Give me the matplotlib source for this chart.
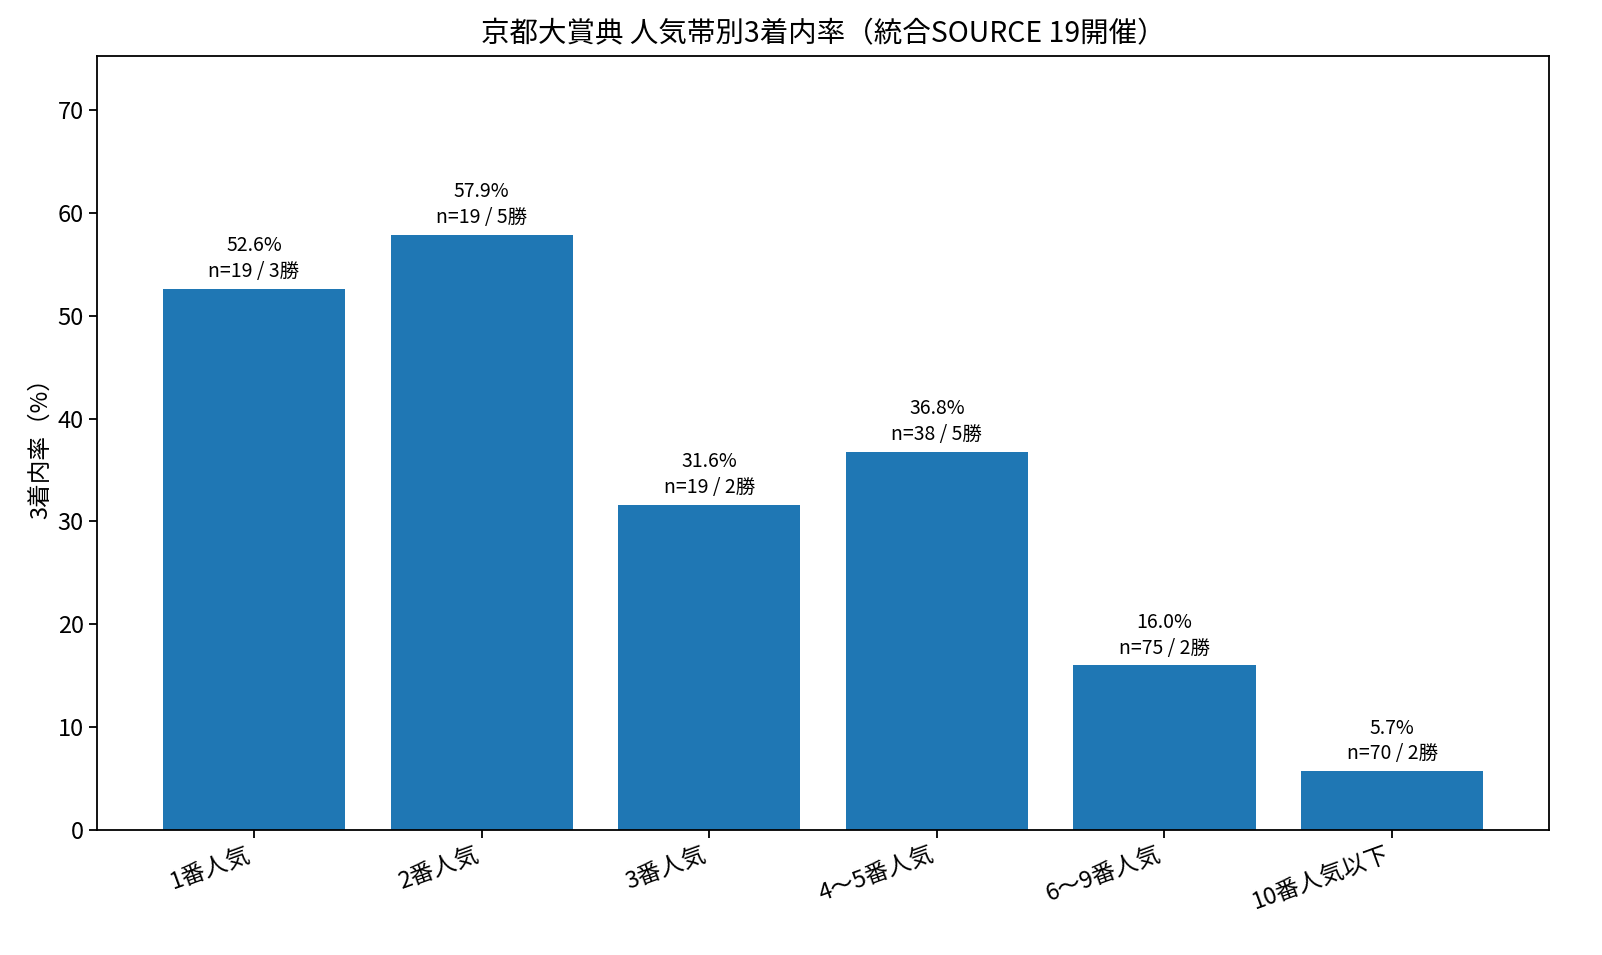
import matplotlib
matplotlib.use("Agg")
import matplotlib.pyplot as plt

plt.rcParams['font.family'] = ['Noto Sans CJK JP', 'DejaVu Sans']

# 人気帯別データ
groups = ['1番人気', '2番人気', '3番人気', '4〜5番人気', '6〜9番人気', '10番人気以下']
rates = [52.6, 57.9, 31.6, 36.8, 16.0, 5.7]
counts = [19, 19, 19, 38, 75, 70]
wins = [3, 5, 2, 5, 2, 2]

fig = plt.figure(figsize=(16.02, 9.55), dpi=100)
ax = fig.add_axes([0.0605, 0.1309, 0.9065, 0.8105])

x = range(len(groups))
bars = ax.bar(x, rates, width=0.8, color='#1f77b4')

for b, r, n, w in zip(bars, rates, counts, wins):
    ax.annotate(f'{r:.1f}%\nn={n} / {w}勝',
                (b.get_x() + b.get_width() / 2, b.get_height()),
                xytext=(0, 5), textcoords='offset points',
                ha='center', va='bottom', fontsize=14, linespacing=1.3)

ax.set_ylim(0, max(rates) * 1.3)
ax.set_xticks(list(x))
ax.set_xticklabels(groups, rotation=20, ha='right', fontsize=17)
ax.tick_params(axis='y', labelsize=17, length=6, width=1.3)
ax.tick_params(axis='x', length=6, width=1.3)
for s in ax.spines.values():
    s.set_linewidth(1.3)
ax.set_ylabel('3着内率（%）', fontsize=17)
ax.set_title('京都大賞典 人気帯別3着内率（統合SOURCE 19開催）', fontsize=20.5, pad=10)

fig.savefig('out.png', dpi=100)
